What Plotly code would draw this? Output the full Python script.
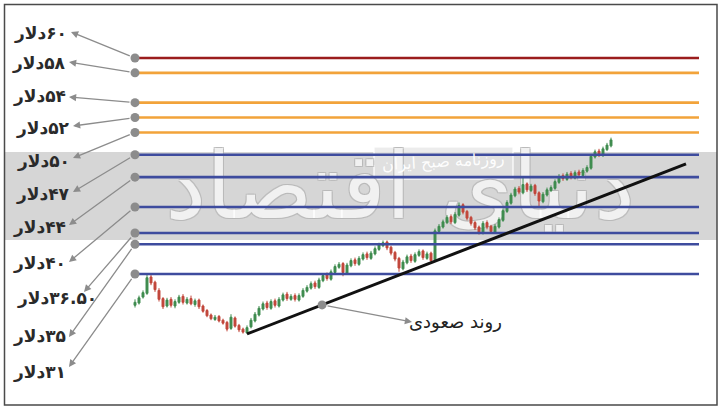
import plotly.graph_objects as go

# ---------------- data ----------------
levels = [60, 58, 54, 52, 50, 47, 44, 40, 36.5, 35, 31]
level_labels = ["۶۰دلار", "۵۸دلار", "۵۴دلار", "۵۲دلار", "۵۰دلار", "۴۷دلار",
                "۴۴دلار", "۴۰دلار", "۳۶.۵۰دلار", "۳۵دلار", "۳۱دلار"]
level_colors = ["#9b1d1d", "#f2a33a", "#f2a33a", "#f2a33a", "#f2a33a",
                "#3e4c9e", "#3e4c9e", "#3e4c9e", "#3e4c9e", "#3e4c9e", "#3e4c9e"]

open_ = [26.8, 27.1, 27.9, 28.4, 30.6, 29.9, 28.8, 27.7, 26.7, 27.6,
         26.7, 27.2, 28.0, 27.1, 27.7, 26.9, 27.5, 26.7, 26.1, 25.5,
         24.9, 25.3, 24.8, 24.5, 23.7, 25.1, 24.1, 23.6, 23.1, 23.9,
         24.7, 25.5, 26.3, 27.1, 26.4, 27.4, 26.7, 27.5, 28.3, 27.6,
         28.1, 27.5, 28.0, 28.7, 29.1, 29.8, 29.2, 30.1, 30.9, 30.3,
         31.2, 31.9, 32.4, 31.1, 32.1, 32.9, 32.3, 33.0, 33.7, 33.1,
         33.7, 34.3, 34.8, 35.3, 34.6, 33.9, 33.1, 31.7, 32.5, 33.4,
         32.7, 33.5, 34.1, 33.1, 33.8, 32.9, 36.7, 37.3, 37.9, 38.7,
         37.9, 38.9, 40.3, 39.4, 38.6, 37.9, 37.3, 36.5, 37.9, 37.4,
         36.6, 37.3, 38.2, 39.4, 40.5, 41.5, 42.5, 41.9, 43.1, 42.2,
         42.9, 41.9, 40.7, 41.6, 42.2, 42.5, 43.3, 44.2, 43.7, 44.5,
         43.9, 44.7, 44.2, 44.8, 45.2, 46.7, 47.5, 46.9, 47.7, 48.2]
close_ = [27.2, 27.8, 28.5, 30.5, 29.8, 28.9, 27.6, 26.6, 27.5, 26.8,
          27.3, 27.9, 27.2, 27.6, 27.0, 27.4, 26.6, 26.0, 25.4, 25.0,
          25.2, 24.7, 24.4, 23.6, 25.2, 24.0, 23.5, 23.2, 23.8, 24.8,
          25.6, 26.4, 27.0, 26.5, 27.3, 26.8, 27.6, 28.2, 27.7, 28.0,
          27.6, 28.1, 28.8, 29.2, 29.7, 29.3, 30.2, 30.8, 30.4, 31.3,
          32.0, 32.3, 31.2, 32.2, 32.8, 32.4, 33.1, 33.6, 33.2, 33.8,
          34.4, 34.9, 35.2, 34.5, 33.8, 33.0, 31.8, 32.6, 33.3, 32.8,
          33.6, 34.0, 33.2, 33.7, 32.8, 36.8, 37.4, 38.0, 38.6, 38.0,
          39.0, 40.2, 39.3, 38.5, 37.8, 37.2, 36.6, 37.8, 37.3, 36.7,
          37.4, 38.3, 39.5, 40.6, 41.6, 42.4, 42.0, 43.0, 42.3, 42.8,
          41.8, 40.8, 41.7, 42.3, 42.6, 43.4, 44.1, 43.8, 44.4, 44.0,
          44.6, 44.3, 44.9, 45.3, 46.8, 47.4, 47.0, 47.8, 48.3, 49.0]
high_ = [27.6, 28.1, 28.8, 31.0, 30.9, 30.1, 29.1, 27.9, 27.8, 27.9,
         27.6, 28.2, 28.3, 27.9, 28.1, 27.7, 27.7, 26.9, 26.3, 25.7,
         25.5, 25.5, 25.0, 24.7, 25.6, 25.3, 24.3, 23.8, 24.1, 25.1,
         25.9, 26.7, 27.3, 27.4, 27.6, 27.7, 27.9, 28.5, 28.6, 28.3,
         28.4, 28.4, 29.1, 29.5, 30.0, 30.1, 30.5, 31.1, 31.2, 31.6,
         32.3, 32.6, 32.6, 32.5, 33.1, 33.2, 33.4, 33.9, 34.0, 34.1,
         34.7, 35.2, 35.5, 35.5, 34.8, 34.1, 33.3, 32.9, 33.6, 33.7,
         33.9, 34.3, 34.3, 34.0, 34.0, 37.1, 37.7, 38.3, 38.9, 39.0,
         39.3, 40.6, 40.5, 39.6, 38.8, 38.1, 37.5, 38.1, 38.2, 37.6,
         37.7, 38.6, 39.8, 40.9, 41.9, 42.7, 42.8, 43.9, 43.3, 43.1,
         43.1, 42.1, 42.0, 42.6, 42.9, 43.7, 44.4, 44.5, 44.7, 44.8,
         44.9, 45.0, 45.2, 45.6, 47.1, 47.7, 47.8, 48.1, 48.6, 49.3]
low_ = [26.5, 26.9, 27.7, 28.2, 29.5, 28.6, 27.3, 26.3, 26.5, 26.5,
        26.4, 27.0, 26.9, 26.9, 26.8, 26.6, 26.3, 25.8, 25.2, 24.8,
        24.7, 24.5, 24.2, 23.3, 23.5, 23.8, 23.2, 23.0, 23.0, 23.7,
        24.5, 25.3, 26.1, 26.2, 26.2, 26.5, 26.5, 27.3, 27.4, 27.4,
        27.3, 27.3, 27.8, 28.5, 28.9, 29.0, 29.0, 29.9, 30.1, 30.1,
        31.0, 31.7, 30.7, 30.9, 31.9, 32.1, 32.1, 32.8, 32.9, 32.9,
        33.5, 34.1, 34.6, 34.2, 33.5, 32.7, 31.3, 31.5, 32.3, 32.5,
        32.5, 33.3, 32.9, 32.9, 32.6, 32.7, 36.5, 37.1, 37.7, 37.7,
        37.7, 38.7, 39.0, 38.2, 37.5, 36.9, 36.3, 36.3, 37.0, 36.4,
        36.4, 37.1, 38.0, 39.2, 40.3, 41.3, 41.7, 41.7, 42.0, 42.0,
        41.5, 39.9, 40.5, 41.4, 42.0, 42.3, 43.1, 43.5, 43.5, 43.7,
        43.7, 44.0, 44.0, 44.6, 45.0, 46.5, 46.7, 46.7, 47.5, 48.0]
days = list(range(len(close_)))

trend_x = [28, 137.75]
trend_y = [22.95, 45.77]
trend_label = "روند صعودی"
watermark = "دنیای اقتصاد"
watermark_small = "روزنامه صبح ایران"

# ---------------- layout helpers (pixel -> data) ----------------
W, H = 724, 411
def X(px):
    return (px - 135) / 4.0
def Y(py):
    return 31 + (274 - py) / 7.45

line_end = X(699)
FONT = "DejaVu Sans"

fig = go.Figure()

# watermark (behind)
fig.add_trace(go.Scatter(
    x=[X(400)], y=[Y(195)], mode="text", text=[watermark],
    textfont=dict(family=FONT, size=92, color="rgba(255,255,255,0.8)",
                  shadow="1px 1px 0 #b8b8b8, -1px -1px 0 #b8b8b8, 1px -1px 0 #b8b8b8, -1px 1px 0 #b8b8b8"),
    hoverinfo="skip", showlegend=False, zorder=-2))

# candles
fig.add_trace(go.Candlestick(
    x=days, open=open_, high=high_, low=low_, close=close_,
    increasing=dict(line=dict(color="#3f8c4f", width=1), fillcolor="#3f8c4f"),
    decreasing=dict(line=dict(color="#c2473b", width=1), fillcolor="#c2473b"),
    whiskerwidth=0, showlegend=False, hoverinfo="skip"))

# level lines
for lv, col in zip(levels, level_colors):
    fig.add_trace(go.Scatter(x=[0, line_end], y=[lv, lv], mode="lines",
                             line=dict(color=col, width=2.6), showlegend=False,
                             hoverinfo="skip"))

# trend line
fig.add_trace(go.Scatter(x=trend_x, y=trend_y, mode="lines",
                         line=dict(color="#111111", width=3), showlegend=False,
                         hoverinfo="skip"))

# dots
t = 0.171
dot_tx = trend_x[0] + t * (trend_x[1] - trend_x[0])
dot_ty = trend_y[0] + t * (trend_y[1] - trend_y[0])
fig.add_trace(go.Scatter(x=[0] * len(levels) + [dot_tx], y=levels + [dot_ty],
                         mode="markers", marker=dict(color="#8c8c8c", size=9),
                         showlegend=False, hoverinfo="skip"))

# labels and arrows
label_pos = [(69, 33), (68, 63), (68, 96), (72, 128), (72, 161), (72, 194),
             (68, 227), (68, 263), (99, 298), (68, 336), (68, 372)]
arrow_tip = [(71, 32), (69, 62), (69, 97), (73, 126), (73, 158), (73, 192),
             (69, 225), (69, 262), (84, 292), (69, 337), (69, 367)]
for lv, lab, (lx, ly), (tx, ty) in zip(levels, level_labels, label_pos, arrow_tip):
    fig.add_annotation(x=X(lx), y=Y(ly), text="\u202b" + lab + "\u202c",
                       showarrow=False, xanchor="right", yanchor="middle",
                       font=dict(family=FONT, size=17, color="#2a2a2a", weight="bold"))
    fig.add_annotation(x=X(tx), y=Y(ty), ax=0, ay=lv, axref="x", ayref="y",
                       text="", showarrow=True, arrowhead=2, arrowsize=1.1,
                       arrowwidth=1.3, arrowcolor="#8c8c8c", standoff=0, startstandoff=4)

# trend label
fig.add_annotation(x=X(455), y=Y(322), text="\u202b" + trend_label + "\u202c", showarrow=False,
                   font=dict(family=FONT, size=18, color="#222222"),
                   xanchor="center", yanchor="middle")
fig.add_annotation(x=X(412), y=Y(322), ax=dot_tx, ay=dot_ty, axref="x", ayref="y",
                   text="", showarrow=True, arrowhead=2, arrowsize=1.1,
                   arrowwidth=1.3, arrowcolor="#8c8c8c", standoff=0, startstandoff=4)

# small watermark box text
fig.add_annotation(x=X(443), y=Y(162), text="\u202b" + watermark_small + "\u202c", showarrow=False,
                   font=dict(family=FONT, size=16, color="rgba(255,255,255,0.95)"),
                   xanchor="center", yanchor="middle", textangle=-3)

shapes = [
    dict(type="rect", xref="paper", yref="paper", x0=5 / W, x1=717 / W,
         y0=1 - 240 / H, y1=1 - 152 / H, fillcolor="#d6d6d6", line=dict(width=0),
         layer="below"),
    dict(type="rect", xref="paper", yref="paper", x0=374 / W, x1=513 / W,
         y0=1 - 179 / H, y1=1 - 147 / H, fillcolor="rgba(228,228,228,0.7)",
         line=dict(width=1.5, color="rgba(255,255,255,0.8)"), layer="below"),
    dict(type="rect", xref="paper", yref="paper", x0=4.5 / W, x1=717 / W,
         y0=1 - 405 / H, y1=1 - 4.5 / H, fillcolor="rgba(0,0,0,0)",
         line=dict(width=1.5, color="#4a4a4a"), layer="above"),
]

fig.update_layout(
    width=W, height=H, margin=dict(l=0, r=0, t=0, b=0),
    paper_bgcolor="white", plot_bgcolor="white", shapes=shapes,
    xaxis=dict(range=[X(0), X(W)], visible=False, rangeslider=dict(visible=False),
               fixedrange=True),
    yaxis=dict(range=[Y(H), Y(0)], visible=False, fixedrange=True),
    showlegend=False,
)

fig.write_html("out.html", config={"displayModeBar": False},
               post_script="document.body.style.margin='0';")
